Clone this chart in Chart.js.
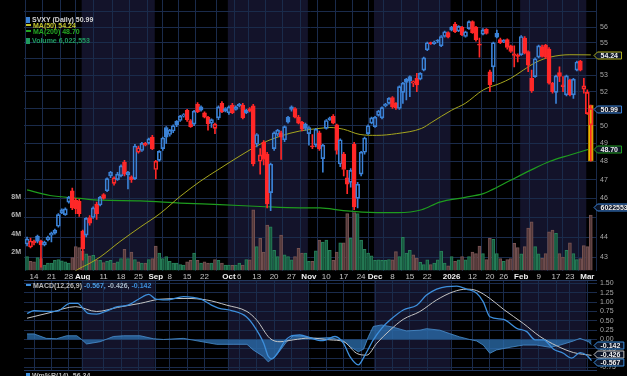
<!DOCTYPE html>
<html>
<head>
<meta charset="utf-8">
<title>SVXY daily</title>
<script src="https://cdn.jsdelivr.net/npm/chart.js@4.4.1/dist/chart.umd.min.js"></script>
<style>
  body { margin: 0; background: #000; overflow: hidden; font-family: 'Liberation Sans', Arial, sans-serif; }
  #wrap { position: relative; width: 627px; height: 376px; overflow: hidden; background: #000; }
  canvas { position: absolute; left: 0; }
  .leg { position: absolute; left: 26px; font-size: 7px; font-weight: bold; line-height: 7px; white-space: nowrap; }
  .ic { display: inline-block; width: 4px; height: 6px; margin-right: 2px; vertical-align: -1px; }
  .dash { display: inline-block; width: 5px; height: 2px; margin-right: 2px; vertical-align: 2px; }
</style>
</head>
<body>
<div id="wrap">
  <canvas id="main" width="627" height="282" style="top:0"></canvas>
  <canvas id="macd" width="627" height="96" style="top:280px"></canvas>

  <div class="leg" style="top:15.5px;color:#d4d4d4"><span class="ic" style="background:#3b82d6"></span>SVXY (Daily) 50.99</div>
  <div class="leg" style="top:21.5px;color:#c4c42a"><span class="dash" style="background:#c4c42a"></span>MA(50) 54.24</div>
  <div class="leg" style="top:27.8px;color:#24a824"><span class="dash" style="background:#24a824"></span>MA(200) 48.70</div>
  <div class="leg" style="top:36.5px;color:#1f9a60"><span class="ic" style="background:#1f9a60"></span>Volume 6,022,553</div>

  <div class="leg" style="top:281.5px;color:#b8b8b8"><span class="dash" style="background:#3d8fdc"></span>MACD(12,26,9) <span style="color:#4a9ae2">-0.567,</span> <span style="color:#a8b8c8">-0.426,</span> <span style="color:#3d8fdc">-0.142</span></div>
  <div class="leg" style="top:371.5px;color:#b8b8b8"><span class="ic" style="background:#3d8fdc"></span>Wm%R(14) -56.34</div>
</div>

<script>
// trading days on the chart
const firstDay = '2025-07-10';
const lastDay = '2026-03-03';
const holidays = ['2025-09-01', '2025-11-27', '2025-12-25', '2026-01-01', '2026-01-19', '2026-02-16'];

// dates that carry an x label
const tickDates = ['2025-07-14', '2025-07-21', '2025-07-28', '2025-08-01', '2025-08-11', '2025-08-18', '2025-08-25',
  '2025-09-02', '2025-09-08', '2025-09-15', '2025-09-22', '2025-10-01', '2025-10-06', '2025-10-13', '2025-10-20',
  '2025-10-27', '2025-11-03', '2025-11-10', '2025-11-17', '2025-11-24', '2025-12-01', '2025-12-08', '2025-12-15',
  '2025-12-22', '2026-01-02', '2026-01-12', '2026-01-20', '2026-01-26', '2026-02-02', '2026-02-09', '2026-02-17',
  '2026-02-23', '2026-03-02'];

const priceTicks = [43, 44, 45, 46, 47, 48, 49, 50, 51, 52, 53, 54, 55, 56, 57];
const priceLabels = [43, 44, 46, 47, 48, 49, 50, 52, 53, 55, 56];
const volumeTicks = [2, 4, 6, 8];
const macdTicks = [-0.75, -0.5, -0.25, 0, 0.25, 0.5, 0.75, 1, 1.25, 1.5];

// OHLC, one value per trading day
const open = [
  43.65, 43.5, 43.8, 44.05, 43.8, 43.6, 43.85, 44.1, 44.2, 44.55,
  45.25, 45.15, 45.8, 46.4, 45.9, 45.85, 44.3, 44.1, 45.0, 45.0,
  45.7, 45.65, 46.2, 46.4, 47.2, 46.8, 47.0, 47.2, 47.95, 47.25,
  47.15, 47.05, 48.5, 48.6, 49.0, 49.0, 49.35, 47.55, 48.05, 48.7,
  49.9, 49.5, 49.7, 50.25, 50.3, 50.55, 50.9, 50.3, 50.1, 51.25,
  51.1, 50.75, 50.5, 50.15, 49.85, 50.45, 51.3, 50.85, 50.75, 51.2,
  50.95, 51.25, 51.2, 50.75, 51.0, 51.15, 48.95, 48.0, 49.05, 48.4,
  46.3, 48.7, 49.5, 49.6, 49.2, 50.5, 51.1, 51.0, 50.5, 50.2,
  50.1, 49.55, 48.85, 48.9, 49.6, 48.15, 49.85, 50.45, 50.55, 50.05,
  47.85, 48.4, 47.1, 46.85, 48.95, 46.0, 47.3, 48.5, 49.55, 50.15,
  49.95, 50.6, 50.45, 51.15, 51.3, 51.65, 51.3, 51.0, 51.95, 52.75,
  52.9, 52.5, 52.8, 52.75, 53.3, 54.55, 55.0, 54.95, 55.15, 54.8,
  55.4, 55.65, 56.0, 56.2, 55.75, 56.0, 55.4, 55.9, 56.35, 56.0,
  54.9, 55.55, 55.85, 53.2, 53.5, 55.6, 55.2, 55.05, 55.2, 54.8,
  54.3, 54.2, 54.25, 55.3, 54.45, 52.8, 52.9, 54.1, 54.75, 54.85,
  54.6, 52.5, 51.95, 53.15, 52.4, 51.8, 52.7, 51.8, 53.3, 53.85,
  52.15, 50.7, 50.05];
const high = [
  44.0, 43.95, 43.85, 44.1, 43.85, 43.8, 44.05, 44.25, 44.4, 45.2,
  45.45, 45.5, 46.1, 46.55, 46.0, 45.95, 44.35, 45.0, 45.1, 45.55,
  45.8, 46.1, 46.25, 47.1, 47.45, 47.15, 47.4, 47.8, 48.05, 47.45,
  47.2, 48.95, 48.85, 49.05, 49.05, 49.3, 49.45, 48.05, 48.6, 49.35,
  49.95, 49.8, 50.05, 50.3, 50.6, 50.7, 50.95, 50.35, 50.9, 51.35,
  51.15, 50.8, 50.55, 50.4, 50.15, 51.15, 51.4, 51.05, 51.15, 51.3,
  51.15, 51.3, 51.3, 50.95, 51.05, 51.25, 49.55, 48.7, 49.15, 48.5,
  47.9, 49.65, 49.8, 49.7, 50.0, 50.55, 51.15, 51.05, 50.6, 50.25,
  50.15, 49.95, 49.5, 49.85, 49.7, 48.95, 50.35, 50.5, 50.65, 50.1,
  49.25, 48.5, 47.5, 47.6, 49.05, 46.85, 48.55, 49.35, 50.05, 50.5,
  50.55, 50.9, 51.1, 51.3, 51.65, 51.7, 51.35, 52.35, 52.55, 52.8,
  52.95, 52.65, 53.1, 53.15, 54.1, 55.05, 55.05, 55.1, 55.2, 55.45,
  55.75, 55.7, 56.05, 56.3, 56.1, 56.05, 55.75, 56.4, 56.4, 56.05,
  55.3, 55.9, 55.9, 53.3, 55.05, 55.8, 55.3, 55.2, 55.25, 54.85,
  54.8, 54.3, 55.45, 55.4, 54.5, 53.3, 54.05, 54.85, 54.85, 54.9,
  54.7, 52.55, 53.0, 53.5, 52.9, 53.0, 52.75, 52.8, 53.85, 53.9,
  52.8, 52.1, 51.2];
const low = [
  43.55, 43.45, 43.6, 43.7, 42.5, 43.55, 43.8, 43.75, 44.15, 44.5,
  45.2, 45.1, 45.75, 45.4, 45.2, 45.05, 42.85, 44.0, 44.6, 44.95,
  44.9, 45.6, 45.95, 46.35, 47.1, 46.7, 46.95, 47.15, 47.2, 46.5,
  46.85, 47.0, 48.45, 48.55, 48.85, 48.95, 48.65, 47.05, 48.0, 48.6,
  49.0, 49.4, 49.6, 49.95, 50.25, 50.5, 50.25, 49.9, 50.0, 50.75,
  50.85, 50.45, 49.75, 49.9, 49.55, 50.35, 50.75, 50.8, 50.65, 50.7,
  50.9, 51.1, 50.4, 50.7, 50.8, 47.75, 48.8, 47.3, 47.8, 45.5,
  45.35, 48.6, 49.4, 48.1, 49.1, 50.15, 50.85, 50.45, 50.1, 49.7,
  49.75, 48.9, 48.7, 48.8, 48.6, 47.4, 49.8, 50.3, 50.1, 48.4,
  47.7, 47.2, 46.25, 46.6, 45.4, 45.5, 47.2, 48.4, 49.5, 50.1,
  49.9, 50.55, 50.4, 51.1, 51.25, 51.0, 50.95, 50.95, 51.3, 51.5,
  51.7, 52.3, 52.0, 52.7, 53.25, 54.5, 54.9, 54.9, 55.0, 54.75,
  55.35, 55.3, 55.75, 55.65, 55.7, 55.45, 55.35, 55.85, 55.6, 55.1,
  54.1, 55.5, 55.55, 52.0, 52.6, 55.3, 54.95, 55.0, 54.6, 54.4,
  53.5, 53.8, 54.2, 54.3, 53.2, 51.95, 52.85, 54.05, 54.1, 54.0,
  52.45, 51.9, 51.3, 52.6, 52.0, 51.75, 51.75, 51.6, 53.25, 53.25,
  51.9, 50.65, 48.0];
const close = [
  43.9, 43.8, 43.7, 43.78, 43.6, 43.75, 44.0, 44.2, 44.35, 45.15,
  45.4, 45.45, 46.05, 45.5, 45.45, 45.2, 43.4, 44.95, 44.7, 45.5,
  45.2, 46.05, 46.0, 47.05, 47.4, 47.1, 47.3, 47.75, 47.3, 47.4,
  47.0, 48.85, 48.75, 49.0, 48.9, 49.25, 48.7, 48.0, 48.55, 49.3,
  49.35, 49.75, 50.0, 50.05, 50.55, 50.65, 50.35, 49.95, 50.85, 50.8,
  50.9, 50.5, 50.1, 50.35, 50.1, 51.1, 50.8, 51.0, 51.1, 50.75,
  51.1, 51.15, 50.45, 50.9, 50.85, 47.85, 49.5, 48.35, 48.1, 45.7,
  47.85, 49.6, 49.75, 49.35, 49.95, 50.2, 50.95, 50.5, 50.15, 49.8,
  49.85, 49.9, 48.8, 49.8, 48.7, 48.9, 50.3, 50.35, 50.15, 48.6,
  49.2, 47.55, 46.75, 47.5, 45.55, 46.75, 48.5, 49.3, 50.0, 50.45,
  50.5, 50.85, 51.05, 51.25, 51.6, 51.1, 51.05, 52.3, 52.5, 52.55,
  52.65, 52.6, 52.4, 53.1, 54.05, 55.0, 54.95, 55.05, 55.1, 55.4,
  55.7, 55.35, 55.8, 55.7, 56.05, 55.5, 55.7, 56.35, 55.65, 55.2,
  54.85, 55.8, 55.6, 52.4, 55.0, 55.35, 55.0, 55.15, 54.7, 54.45,
  54.2, 54.15, 55.4, 54.35, 53.6, 52.05, 54.0, 54.8, 54.15, 54.1,
  52.5, 52.0, 52.95, 52.92, 52.3, 52.95, 51.8, 52.75, 53.8, 53.3,
  52.35, 51.95, 50.99];

// volume, millions of shares
const volume = [
  1.5, 1.0, 0.95, 1.4, 1.3, 0.6, 0.8, 0.8, 1.1, 1.2,
  1.05, 0.95, 0.8, 1.4, 2.6, 2.5, 2.1, 1.8, 1.6, 1.65,
  1.15, 1.1, 0.85, 1.0, 1.1, 0.8, 0.95, 1.3, 2.3, 1.3,
  2.0, 1.2, 0.95, 0.8, 0.8, 1.2, 1.3, 2.65, 1.9, 1.3,
  1.5, 1.0, 0.8, 0.8, 0.65, 0.6, 0.95, 1.1, 1.9, 1.1,
  0.8, 0.95, 0.8, 0.8, 1.2, 1.1, 0.8, 0.6, 0.6, 0.55,
  0.6, 0.8, 0.6, 1.2, 1.15, 6.6, 2.6, 3.5, 2.0, 4.95,
  4.75, 2.2, 1.5, 3.85, 1.7, 1.5, 1.15, 1.5, 2.4, 1.9,
  1.9, 1.0, 1.0, 2.15, 3.3, 3.1, 3.3, 2.2, 1.1, 2.0,
  3.0, 3.0, 6.2, 3.5, 6.3, 6.2, 3.3, 2.3, 1.9, 1.6,
  1.1, 1.15, 1.1, 1.1, 1.2, 1.15, 2.05, 1.5, 3.6, 1.9,
  2.2, 1.7, 1.35, 0.9, 0.65, 1.15, 0.65, 0.8, 1.15, 2.1,
  0.8, 0.5, 1.5, 1.0, 1.15, 1.5, 1.15, 1.5, 2.0, 1.85,
  2.65, 1.85, 1.2, 3.5, 3.4, 1.85, 1.3, 1.0, 1.2, 1.3,
  2.95, 2.5, 1.8, 2.6, 4.6, 5.3, 2.6, 1.8, 1.35, 1.85,
  4.2, 4.4, 4.05, 1.85, 1.45, 2.2, 3.0, 1.85, 1.2, 1.3,
  2.7, 2.6, 6.02];

// moving averages: [day index, value]
const ma50 = [[12, 42.0], [13.8, 42.3], [18.1, 42.7], [21, 43.0], [26.7, 43.77], [32.5, 44.5], [38.2, 45.2],
  [44, 46.1], [49.7, 46.9], [55.4, 47.6], [61.2, 48.3], [67, 48.95], [72.7, 49.4], [78.4, 49.7], [84.2, 49.85],
  [87, 49.9], [90.9, 49.8], [95.7, 49.5], [100.5, 49.45], [106.2, 49.55], [113.4, 49.85], [116.3, 50.2],
  [122, 50.9], [125.9, 51.3], [131.1, 52.1], [136, 52.5], [139, 52.8], [142.6, 53.3], [146.4, 53.8],
  [150.3, 54.1], [156, 54.25], [162, 54.24]];
const ma200 = [[0, 46.45], [6.6, 46.15], [15.2, 46.0], [21, 45.9], [32.5, 45.87], [44, 45.75], [55.4, 45.67],
  [67, 45.57], [78.4, 45.5], [84.2, 45.5], [90.9, 45.35], [100.5, 45.25], [106.6, 45.25], [113.4, 45.4],
  [118.6, 45.8], [125.9, 46.05], [131.1, 46.25], [133, 46.4], [138.8, 46.95], [144.6, 47.5], [150.3, 48.0],
  [156, 48.35], [162, 48.7]];

// MACD(12,26,9): [day index, value]
const macdLine = [[0, 0.70], [2, 0.77], [6.6, 0.75], [9, 0.77], [12.3, 0.97], [14.6, 0.97], [16, 0.84], [17.5, 0.70],
  [20, 0.68], [23, 0.77], [26, 0.88], [29, 0.92], [32, 1.08], [35, 1.21], [37, 1.08], [40, 1.06], [45, 1.15],
  [50, 1.08], [53, 0.92], [55, 0.84], [59, 0.77], [63, 0.61], [65, 0.39], [68, -0.10], [69.3, -0.45], [70.4, -0.52],
  [72.2, -0.33], [74, -0.05], [75.6, 0.08], [78.4, 0.12], [81.3, 0.05], [84.2, -0.03], [85.1, -0.03], [88.5, 0.08],
  [90.9, -0.10], [92.8, -0.46], [95.2, -0.68], [97.1, -0.42], [99.5, -0.01], [101.9, 0.30], [104.3, 0.52],
  [108.1, 0.79], [112, 0.92], [114.8, 1.19], [117.7, 1.35], [120.6, 1.42], [123.5, 1.43], [126.3, 1.35],
  [129.2, 1.24], [131.1, 1.01], [133, 0.61], [136.9, 0.54], [140.7, 0.30], [143.6, 0.21], [146, -0.01],
  [148.4, -0.01], [151.3, -0.26], [154.1, -0.37], [156.5, -0.50], [158.9, -0.35], [160.8, -0.42], [162.2, -0.567]];
const signalLine = [[0, 0.57], [6.6, 0.72], [14, 0.88], [20, 0.75], [26, 0.86], [32.6, 0.97], [38.2, 1.08], [46, 1.10],
  [51.6, 1.06], [57.4, 0.92], [63.2, 0.75], [66, 0.52], [69.8, 0.03], [72.7, -0.06], [76.5, -0.01], [81.3, 0.04],
  [87, -0.01], [91, -0.06], [94.7, -0.37], [97.6, -0.42], [100.5, -0.10], [104.3, 0.25], [108.1, 0.54],
  [112.9, 0.75], [117.7, 1.06], [122.5, 1.28], [126.3, 1.35], [129.2, 1.31], [133, 1.10], [136.9, 0.81],
  [142.6, 0.43], [147.4, 0.08], [152.2, -0.17], [157, -0.35], [162.2, -0.426]];
const histLine = [[0, 0.15], [2, 0.15], [5.5, 0.03], [8.5, 0.02], [11.4, 0.1], [14.3, 0.1], [15.7, 0], [17.1, -0.12],
  [21, -0.06], [24.8, 0.08], [27.7, 0.1], [32.5, 0.1], [36.3, 0.02], [39.2, 0], [44.9, 0.03], [49.7, -0.05],
  [54.5, -0.13], [59.2, -0.13], [63.2, -0.13], [65, -0.28], [67.8, -0.45], [69.3, -0.6], [71.7, -0.42],
  [74.6, -0.06], [76.5, 0.1], [79.4, 0.08], [82.3, 0.03], [87, 0.05], [90.9, -0.03], [92.8, -0.19], [95.2, -0.33],
  [96.7, -0.26], [98.1, 0.08], [99.5, 0.35], [101.9, 0.39], [105.2, 0.33], [109, 0.23], [112.9, 0.25],
  [114.8, 0.29], [118.6, 0.25], [121.4, 0.16], [124.3, 0.07], [127.2, 0], [129.2, -0.04], [131.1, -0.15],
  [133, -0.37], [134.9, -0.28], [138.8, -0.21], [142.6, -0.15], [146.4, -0.15], [150.3, -0.21], [153.2, -0.15],
  [157, -0.04], [158.9, 0.03], [161.3, -0.06], [162.2, -0.142]];

// ---------------------------------------------------------------
const days = [];
for (let d = new Date(firstDay + 'T00:00:00Z'); d <= new Date(lastDay + 'T00:00:00Z'); d.setUTCDate(d.getUTCDate() + 1)) {
  const s = d.toISOString().slice(0, 10);
  const wd = d.getUTCDay();
  if (wd !== 0 && wd !== 6 && !holidays.includes(s)) days.push(s);
}
const last = days.length - 1;
const tickIdx = tickDates.map(d => days.indexOf(d)).filter(i => i >= 0);
const monthNames = ['Jan', 'Feb', 'Mar', 'Apr', 'May', 'Jun', 'Jul', 'Aug', 'Sep', 'Oct', 'Nov', 'Dec'];

function isMonthStart(i) {
  return i > 0 && i < days.length && days[i - 1].slice(5, 7) !== days[i].slice(5, 7);
}
function tickLabel(i) {
  const d = days[i];
  if (!d) return '';
  if (!isMonthStart(i)) return String(+d.slice(8));
  const m = +d.slice(5, 7);
  return m === 1 ? d.slice(0, 4) : monthNames[m - 1];
}
function tickIsMonth(c) {
  return !!(c && c.tick && isMonthStart(c.tick.value));
}

const BLUE = '#3b82d6', RED = '#ff2828', GRID = '#1a2b4b', BAND = '#13132a';
const up = close.map((c, i) => i === 0 || c >= close[i - 1]);
const candleColor = up.map(u => u ? BLUE : RED);
const bodyFill = close.map((c, i) => c > open[i] ? 'rgba(0,0,0,0)' : candleColor[i]);
const xMin = -0.874, xMax = 163.78;

// alternating month background bands
const monthBands = {
  id: 'monthBands',
  beforeDraw(chart) {
    const { ctx, chartArea: a, scales: { x } } = chart;
    ctx.save();
    ctx.fillStyle = BAND;
    let start = null;
    for (let i = 0; i <= days.length; i++) {
      const shaded = i < days.length && (+days[i].slice(5, 7)) % 2 === 0;
      if (shaded && start === null) start = i;
      if (!shaded && start !== null) {
        const x0 = Math.max(a.left, x.getPixelForValue(start - 0.3));
        const x1 = Math.min(a.right, x.getPixelForValue(i - 0.3));
        ctx.fillRect(x0, a.top, x1 - x0, a.bottom - a.top);
        start = null;
      }
    }
    ctx.restore();
  }
};

// value tags on the right edge
function tagPlugin(tags) {
  return {
    id: 'tags',
    afterDraw(chart) {
      const { ctx, chartArea: a } = chart;
      const list = tags.map(t => ({ ...t, py: chart.scales[t.axis].getPixelForValue(t.value) + (t.dy || 0) }));
      list.sort((p, q) => p.py - q.py);
      for (let k = 0; k < 10; k++) {
        for (let j = 1; j < list.length; j++) {
          const gap = list[j].py - list[j - 1].py;
          if (gap < 7.5) { const m = (7.5 - gap) / 2; list[j].py += m; list[j - 1].py -= m; }
        }
      }
      ctx.save();
      ctx.font = 'bold 7px "Liberation Sans", Arial, sans-serif';
      ctx.textBaseline = 'middle';
      list.forEach(t => {
        const y = Math.round(t.py) + 0.5;
        const x0 = a.right - 3, x1 = a.right + 4 + ctx.measureText(t.text).width + 3;
        ctx.beginPath();
        ctx.moveTo(x0, y);
        ctx.lineTo(x0 + 3.5, y - 3.5);
        ctx.lineTo(x1, y - 3.5);
        ctx.lineTo(x1, y + 3.5);
        ctx.lineTo(x0 + 3.5, y + 3.5);
        ctx.closePath();
        ctx.fillStyle = t.fill || '#0c1426';
        ctx.fill();
        ctx.strokeStyle = t.color;
        ctx.lineWidth = 1;
        ctx.stroke();
        ctx.fillStyle = t.textColor || '#f0f0f0';
        ctx.fillText(t.text, a.right + 3.5, y + 0.5);
      });
      ctx.restore();
    }
  };
}

Chart.defaults.font.family = "'Liberation Sans', Arial, sans-serif";
Chart.defaults.animation = false;

const pts = arr => arr.map(([x, y]) => ({ x, y }));

new Chart(document.getElementById('main'), {
  type: 'bar',
  data: {
    datasets: [
      {
        label: 'body', yAxisID: 'y', order: 0, grouped: false,
        data: open.map((o, i) => ({ x: i, y: [Math.min(o, close[i]), Math.max(o, close[i])] })),
        backgroundColor: bodyFill, borderColor: candleColor, borderWidth: 1, borderSkipped: false,
        barThickness: 4, minBarLength: 1
      },
      {
        label: 'wick high', yAxisID: 'y', order: 1, grouped: false,
        data: high.map((h, i) => ({ x: i, y: [Math.max(open[i], close[i]), h] })),
        backgroundColor: candleColor, barThickness: 1
      },
      {
        label: 'wick low', yAxisID: 'y', order: 1, grouped: false,
        data: low.map((l, i) => ({ x: i, y: [l, Math.min(open[i], close[i])] })),
        backgroundColor: candleColor, barThickness: 1
      },
      {
        label: 'latest range', yAxisID: 'y', order: 2, grouped: false,
        data: [{ x: last, y: [low[last], high[last]] }],
        backgroundColor: '#e2c200', borderColor: '#b87a00', borderWidth: 1, borderSkipped: false, barThickness: 5
      },
      {
        type: 'line', label: 'MA(50)', yAxisID: 'y', order: 3, data: pts(ma50),
        borderColor: '#a6a61e', borderWidth: 1, pointRadius: 0, cubicInterpolationMode: 'monotone'
      },
      {
        type: 'line', label: 'MA(200)', yAxisID: 'y', order: 3, data: pts(ma200),
        borderColor: '#1e9c1e', borderWidth: 1.2, pointRadius: 0, cubicInterpolationMode: 'monotone'
      },
      {
        label: 'Volume', yAxisID: 'yv', order: 5, grouped: false,
        data: volume.map((v, i) => ({ x: i, y: v })),
        backgroundColor: up.map(u => u ? 'rgba(22,88,60,0.85)' : 'rgba(84,56,56,0.85)'),
        borderColor: up.map(u => u ? '#27805a' : '#765252'),
        borderWidth: 1, borderSkipped: 'start', barThickness: 3
      }
    ]
  },
  options: {
    responsive: false,
    events: [],
    layout: { padding: 0 },
    plugins: { legend: { display: false }, tooltip: { enabled: false } },
    scales: {
      x: {
        type: 'linear', min: xMin, max: xMax, offset: false,
        afterBuildTicks: s => { s.ticks = tickIdx.map(v => ({ value: v })); },
        afterFit: s => { s.height = 11.5; s.paddingLeft = 0; s.paddingRight = 0; },
        grid: { color: GRID, drawTicks: false },
        border: { display: false },
        ticks: {
          autoSkip: false, maxRotation: 0, minRotation: 0, padding: 1,
          callback: v => tickLabel(v),
          color: c => tickIsMonth(c) ? '#f0f0f0' : '#c4c4c4',
          font: c => ({ size: 8, weight: tickIsMonth(c) ? 'bold' : 'normal' })
        }
      },
      y: {
        type: 'logarithmic', position: 'right', min: 42.34, max: 57.77,
        afterBuildTicks: s => { s.ticks = priceTicks.map(v => ({ value: v })); },
        afterFit: s => { s.width = 30; s.paddingTop = 0; s.paddingBottom = 0; },
        grid: { color: GRID, drawTicks: false },
        border: { display: false },
        ticks: { autoSkip: false, padding: 3, color: '#a8a8a8', font: { size: 7 }, callback: v => priceLabels.includes(v) ? String(v) : '' }
      },
      yv: {
        type: 'linear', position: 'left', min: 0, max: 29.4,
        afterBuildTicks: s => { s.ticks = volumeTicks.map(v => ({ value: v })); },
        afterFit: s => { s.width = 24; s.paddingTop = 0; s.paddingBottom = 0; },
        grid: { display: false, drawTicks: false },
        border: { display: false },
        ticks: { autoSkip: false, padding: 3, color: '#b4b4b4', font: { size: 7, weight: 'bold' }, callback: v => v + 'M' }
      }
    }
  },
  plugins: [monthBands, tagPlugin([
    { axis: 'y', value: 54.24, text: '54.24', color: '#b0b020' },
    { axis: 'y', value: 50.99, text: '50.99', color: BLUE },
    { axis: 'y', value: 48.70, text: '48.70', color: '#22a022' },
    { axis: 'yv', value: 6.022553, text: '6022553', color: '#3b82d6', dy: -8 }
  ])]
});

const panelEdges = {
  id: 'panelEdges',
  afterDatasetsDraw(chart) {
    const { ctx, chartArea: a } = chart;
    ctx.save();
    ctx.strokeStyle = '#23385e';
    ctx.lineWidth = 1;
    ctx.beginPath();
    ctx.moveTo(a.left, a.top + 0.5); ctx.lineTo(a.right, a.top + 0.5);
    ctx.moveTo(a.left, a.bottom - 0.5); ctx.lineTo(a.right, a.bottom - 0.5);
    ctx.stroke();
    ctx.restore();
  }
};

new Chart(document.getElementById('macd'), {
  type: 'line',
  data: {
    datasets: [
      { label: 'MACD', data: pts(macdLine), borderColor: '#3d8fdc', borderWidth: 1.3, pointRadius: 0, cubicInterpolationMode: 'monotone', order: 0 },
      { label: 'Signal', data: pts(signalLine), borderColor: '#c4c4c4', borderWidth: 1, pointRadius: 0, cubicInterpolationMode: 'monotone', order: 1 },
      {
        label: 'Histogram', data: pts(histLine), borderColor: '#4a90d0', borderWidth: 0.8,
        backgroundColor: 'rgba(44,112,176,0.75)', fill: 'origin', pointRadius: 0, order: 2
      }
    ]
  },
  options: {
    responsive: false,
    events: [],
    layout: { padding: { left: 24 } },
    plugins: { legend: { display: false }, tooltip: { enabled: false } },
    scales: {
      x: {
        type: 'linear', min: xMin, max: xMax, offset: false,
        afterBuildTicks: s => { s.ticks = tickIdx.map(v => ({ value: v })); },
        afterFit: s => { s.height = 5; s.paddingLeft = 0; s.paddingRight = 0; },
        grid: { color: GRID, drawTicks: false },
        border: { display: false },
        ticks: { display: false }
      },
      y: {
        position: 'right', min: -0.845, max: 1.595,
        afterBuildTicks: s => { s.ticks = macdTicks.map(v => ({ value: v })); },
        afterFit: s => { s.width = 30; s.paddingTop = 0; s.paddingBottom = 0; },
        grid: { color: GRID, drawTicks: false },
        border: { display: false },
        ticks: { autoSkip: false, padding: 3, color: '#a8a8a8', font: { size: 7 }, callback: v => v.toFixed(2) }
      }
    }
  },
  plugins: [monthBands, panelEdges, tagPlugin([
    { axis: 'y', value: -0.142, text: '-0.142', color: '#3d8fdc' },
    { axis: 'y', value: -0.426, text: '-0.426', color: '#c4c4c4' },
    { axis: 'y', value: -0.567, text: '-0.567', color: '#3d8fdc' }
  ])]
});
</script>
</body>
</html>
